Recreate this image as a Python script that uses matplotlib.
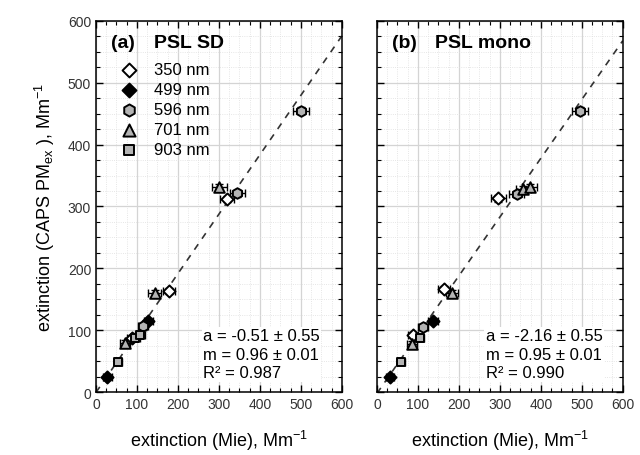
import matplotlib
matplotlib.use('Agg')
import matplotlib.pyplot as plt
import numpy as np
from matplotlib.ticker import MultipleLocator

plt.rcParams['font.family'] = ['Liberation Sans', 'DejaVu Sans']
plt.rcParams['mathtext.default'] = 'regular'

wavelengths = ['350 nm', '499 nm', '596 nm', '701 nm', '903 nm']
markers = ['D', 'D', 'h', '^', 's']
sizes = [38, 38, 58, 58, 34]
faces = ['white', 'black', '#b4b4b4', '#b4b4b4', '#b4b4b4']

# panel (a): PSL SD -- Mie extinction vs CAPS PMex, per wavelength
sd_mie = [[88, 179, 320], [28, 128], [114, 345, 500], [71, 143, 301], [53, 96, 108]]
sd_caps = [[88, 164, 312], [24, 115], [106, 321, 455], [79, 160, 331], [49, 87, 93]]
sd_xerr = [[12, 15, 18], [10, 12], [12, 18, 20], [12, 15, 18], [10, 12, 12]]
sd_fit = (-0.51, 0.96)
sd_stats = ['a = -0.51 ± 0.55', 'm = 0.96 ± 0.01', 'R² = 0.987']

# panel (b): PSL mono
mono_mie = [[89, 163, 296], [31, 137], [112, 341, 495], [85, 183, 357, 373], [59, 104]]
mono_caps = [[92, 166, 313], [25, 115], [105, 320, 455], [78, 160, 328, 331], [49, 88]]
mono_xerr = [[12, 15, 18], [10, 12], [12, 18, 20], [12, 15, 18, 18], [10, 12]]
mono_fit = (-2.16, 0.95)
mono_stats = ['a = -2.16 ± 0.55', 'm = 0.95 ± 0.01', 'R² = 0.990']

fig = plt.figure(figsize=(6.4, 4.56), dpi=100)
ax1 = fig.add_axes([0.150, 0.138, 0.384, 0.814])
ax2 = fig.add_axes([0.589, 0.138, 0.384, 0.814])


def draw_panel(ax, mie, caps, xerr, fit, stats, tag, name, stats_x, show_legend):
    ax.set_xlim(0, 600)
    ax.set_ylim(0, 600)
    ax.xaxis.set_major_locator(MultipleLocator(100))
    ax.yaxis.set_major_locator(MultipleLocator(100))
    ax.xaxis.set_minor_locator(MultipleLocator(25))
    ax.yaxis.set_minor_locator(MultipleLocator(25))
    ax.grid(True, which='major', color='#d4d4d4', linewidth=0.9)
    ax.grid(True, which='minor', color='#dedede', linewidth=0.6, linestyle=':')
    ax.set_axisbelow(True)
    ax.tick_params(which='both', direction='in', top=True, right=True,
                   labelsize=10, labelcolor='#333333')
    ax.tick_params(which='major', length=5, width=1)
    ax.tick_params(which='minor', length=3, width=0.8)
    for s in ax.spines.values():
        s.set_linewidth(1.1)

    xx = np.array([0, 600])
    ax.plot(xx, fit[0] + fit[1] * xx, linestyle=(0, (4, 4)), color='#333333',
            linewidth=1.2, zorder=2)

    handles = []
    for i in range(len(wavelengths)):
        ax.errorbar(mie[i], caps[i], xerr=xerr[i], yerr=5, fmt='none',
                    ecolor='black', elinewidth=1.0, capsize=3, capthick=1.0, zorder=3)
        h = ax.scatter(mie[i], caps[i], marker=markers[i], s=sizes[i],
                       facecolor=faces[i], edgecolor='black', linewidth=1.4, zorder=4)
        handles.append(h)

    ax.text(0.063, 0.965, tag, transform=ax.transAxes, fontsize=14,
            fontweight='bold', va='top', ha='left')
    ax.text(0.237, 0.965, name, transform=ax.transAxes, fontsize=14,
            fontweight='bold', va='top', ha='left')
    if show_legend:
        ax.legend(handles, wavelengths, loc='upper left', bbox_to_anchor=(0.02, 0.92),
                  frameon=False, fontsize=12, handletextpad=0.5, markerscale=1.15,
                  labelspacing=0.3, borderaxespad=0.3)

    ax.text(stats_x, 0.172, '\n'.join(stats), transform=ax.transAxes, fontsize=12,
            va='top', ha='left', linespacing=1.3,
            bbox=dict(facecolor='white', edgecolor='none', pad=1))


draw_panel(ax1, sd_mie, sd_caps, sd_xerr, sd_fit, sd_stats,
           '(a)', 'PSL SD', 0.435, True)
draw_panel(ax2, mono_mie, mono_caps, mono_xerr, mono_fit, mono_stats,
           '(b)', 'PSL mono', 0.443, False)
ax2.tick_params(labelleft=False)

ax1.set_ylabel('extinction (CAPS PM$_{ex}$ ), Mm$^{-1}$', fontsize=13, labelpad=8)
ax1.set_xlabel('extinction (Mie), Mm$^{-1}$', fontsize=13, labelpad=12)
ax2.set_xlabel('extinction (Mie), Mm$^{-1}$', fontsize=13, labelpad=12)

fig.savefig('out.png', dpi=100)
